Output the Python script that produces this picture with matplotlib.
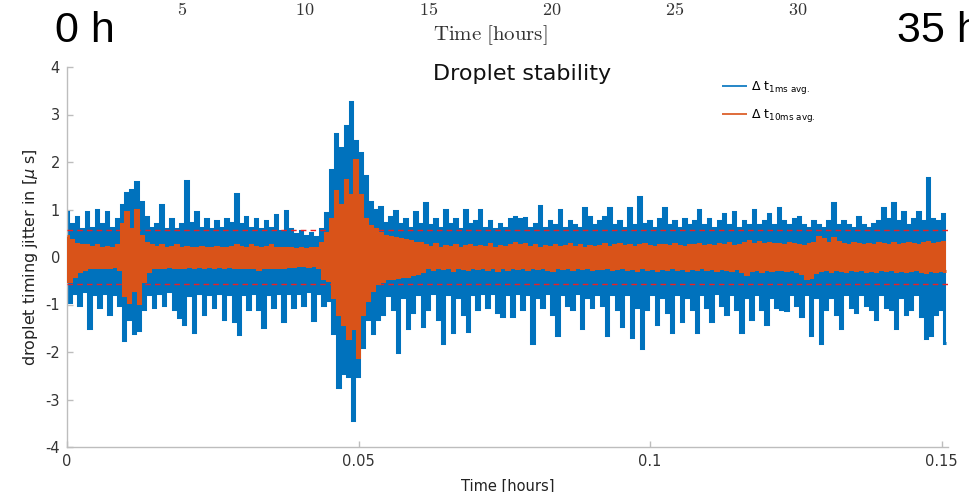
import numpy as np
import matplotlib
matplotlib.use("Agg")
import matplotlib.pyplot as plt

plt.rcParams["path.simplify"] = False
plt.rcParams["axes.unicode_minus"] = False

# ---------------- data ----------------
T_END = 0.1511          # hours, right end of the record
THRESHOLDS = [0.57, -0.57]   # red dashed limits (µs)

# envelope of the 1 ms average, one value per ~5 px column
BLUE_UP = [
    0.95, 0.70, 0.85, 0.58, 0.95, 0.62, 1.00, 0.70, 0.95, 0.62,
    0.80, 1.10, 1.35, 1.42, 1.57, 1.15, 0.85, 0.62, 0.70, 1.10,
    0.58, 0.80, 0.60, 0.70, 1.60, 0.72, 0.95, 0.62, 0.80, 0.58,
    0.75, 0.62, 0.80, 0.72, 1.33, 0.70, 0.85, 0.62, 0.80, 0.58,
    0.75, 0.62, 0.88, 0.55, 0.97, 0.58, 0.48, 0.55, 0.45, 0.50,
    0.42, 0.60, 0.92, 1.83, 2.60, 2.30, 2.75, 3.27, 2.45, 2.20,
    1.70, 1.15, 1.00, 1.05, 0.72, 0.85, 0.97, 0.70, 0.80, 0.62,
    0.95, 0.70, 1.13, 0.68, 0.80, 0.62, 1.00, 0.70, 0.80, 0.58,
    1.00, 0.70, 0.75, 1.00, 0.62, 0.75, 0.58, 0.70, 0.62, 0.80,
    0.85, 0.80, 0.82, 0.62, 0.70, 1.08, 0.62, 0.75, 0.68, 1.00,
    0.62, 0.75, 0.68, 0.62, 1.03, 0.85, 0.68, 0.75, 0.85, 1.03,
    0.68, 0.75, 0.62, 1.03, 0.68, 1.27, 0.70, 0.75, 0.62, 0.80,
    1.03, 0.68, 0.75, 0.62, 0.80, 0.68, 0.75, 1.00, 0.68, 0.80,
    0.62, 0.75, 0.90, 0.68, 0.95, 0.62, 0.75, 0.68, 1.00, 0.68,
    0.75, 0.90, 0.68, 1.03, 0.75, 0.68, 0.80, 0.85, 0.68, 0.62,
    0.75, 0.68, 0.62, 0.75, 1.13, 0.68, 0.75, 0.68, 0.62, 0.85,
    0.68, 0.62, 0.70, 0.75, 1.03, 0.80, 1.13, 0.75, 0.95, 0.68,
    0.80, 0.95, 0.75, 1.66, 0.80, 0.75, 0.90,
]
BLUE_LOW = [
    -0.95, -0.75, -1.00, -0.72, -1.50, -0.78, -1.05, -0.75, -1.20, -0.78,
    -1.00, -1.75, -1.30, -1.60, -1.53, -1.10, -0.78, -1.05, -0.75, -1.00,
    -0.72, -1.10, -1.27, -1.40, -0.80, -1.58, -0.75, -1.20, -0.78, -1.05,
    -0.75, -1.30, -0.78, -1.35, -1.63, -0.78, -1.10, -0.75, -1.10, -1.47,
    -0.78, -1.05, -0.75, -1.35, -0.75, -1.05, -0.75, -1.00, -0.72, -1.32,
    -0.75, -1.00, -0.90, -1.60, -2.73, -2.45, -2.50, -3.43, -2.50, -1.90,
    -1.30, -1.60, -1.30, -1.20, -0.80, -1.10, -2.00, -0.85, -1.50, -1.15,
    -0.78, -1.45, -1.10, -0.75, -1.30, -1.80, -0.78, -1.58, -0.85, -1.20,
    -1.55, -0.78, -1.10, -0.75, -1.05, -0.75, -1.15, -1.25, -0.78, -1.25,
    -0.75, -1.10, -0.78, -1.80, -0.85, -1.05, -0.75, -1.20, -1.65, -0.78,
    -1.00, -1.10, -0.75, -1.50, -0.85, -1.05, -0.78, -1.00, -1.64, -0.78,
    -1.10, -1.45, -0.78, -1.68, -1.05, -1.92, -1.10, -0.78, -1.40, -0.85,
    -1.15, -1.57, -0.78, -1.35, -0.85, -1.10, -1.57, -0.78, -1.05, -1.35,
    -0.75, -1.00, -1.20, -0.78, -1.10, -1.57, -0.85, -1.30, -0.78, -1.10,
    -1.40, -0.85, -1.05, -1.10, -1.12, -0.78, -1.00, -1.25, -0.78, -1.64,
    -0.85, -1.80, -1.10, -0.85, -1.20, -1.50, -0.78, -1.05, -1.15, -0.78,
    -1.00, -1.10, -1.30, -0.78, -1.05, -1.10, -1.50, -0.85, -1.20, -1.10,
    -0.78, -1.25, -1.70, -1.64, -1.20, -1.10, -1.80,
]
# envelope of the 10 ms average
ORANGE_UP = [
    0.45, 0.35, 0.28, 0.25, 0.25, 0.22, 0.25, 0.20, 0.22, 0.20,
    0.25, 0.70, 0.95, 0.60, 1.00, 0.45, 0.30, 0.25, 0.22, 0.25,
    0.20, 0.22, 0.25, 0.20, 0.22, 0.20, 0.18, 0.22, 0.20, 0.18,
    0.22, 0.20, 0.18, 0.22, 0.25, 0.22, 0.20, 0.25, 0.22, 0.20,
    0.22, 0.25, 0.20, 0.18, 0.20, 0.18, 0.16, 0.18, 0.16, 0.18,
    0.20, 0.30, 0.50, 0.80, 1.40, 1.10, 1.62, 1.30, 2.05, 1.30,
    0.80, 0.65, 0.60, 0.50, 0.45, 0.42, 0.40, 0.38, 0.35, 0.33,
    0.30, 0.30, 0.25, 0.22, 0.28, 0.20, 0.24, 0.22, 0.26, 0.20,
    0.23, 0.25, 0.21, 0.24, 0.22, 0.27, 0.20, 0.24, 0.22, 0.25,
    0.30, 0.26, 0.28, 0.22, 0.25, 0.20, 0.24, 0.22, 0.26, 0.21,
    0.24, 0.27, 0.22, 0.25, 0.20, 0.24, 0.22, 0.24, 0.27, 0.22,
    0.25, 0.28, 0.23, 0.26, 0.22, 0.25, 0.28, 0.24, 0.22, 0.26,
    0.25, 0.23, 0.27, 0.24, 0.22, 0.26, 0.25, 0.28, 0.24, 0.26,
    0.23, 0.27, 0.25, 0.29, 0.24, 0.26, 0.30, 0.33, 0.28, 0.32,
    0.27, 0.30, 0.28, 0.28, 0.25, 0.30, 0.27, 0.26, 0.24, 0.27,
    0.30, 0.43, 0.38, 0.30, 0.40, 0.32, 0.28, 0.26, 0.29, 0.27,
    0.25, 0.28, 0.26, 0.30, 0.27, 0.25, 0.29, 0.26, 0.28, 0.30,
    0.27, 0.25, 0.29, 0.31, 0.28, 0.30, 0.32,
]
ORANGE_LOW = [
    -0.50, -0.40, -0.30, -0.25, -0.22, -0.20, -0.22, -0.20, -0.22, -0.18,
    -0.25, -0.80, -0.95, -0.70, -0.97, -0.50, -0.30, -0.22, -0.20, -0.22,
    -0.18, -0.20, -0.22, -0.20, -0.18, -0.22, -0.18, -0.20, -0.18, -0.20,
    -0.18, -0.20, -0.18, -0.22, -0.22, -0.20, -0.22, -0.20, -0.25, -0.20,
    -0.22, -0.20, -0.22, -0.20, -0.18, -0.18, -0.16, -0.16, -0.18, -0.16,
    -0.20, -0.45, -0.48, -0.85, -1.20, -1.40, -1.70, -1.50, -2.10, -1.20,
    -0.90, -0.70, -0.55, -0.50, -0.45, -0.45, -0.42, -0.40, -0.40, -0.35,
    -0.33, -0.30, -0.22, -0.25, -0.20, -0.24, -0.22, -0.27, -0.20, -0.23,
    -0.25, -0.21, -0.24, -0.22, -0.26, -0.20, -0.28, -0.22, -0.25, -0.21,
    -0.24, -0.22, -0.26, -0.20, -0.24, -0.22, -0.25, -0.27, -0.21, -0.24,
    -0.22, -0.26, -0.20, -0.24, -0.22, -0.25, -0.23, -0.24, -0.22, -0.26,
    -0.24, -0.21, -0.25, -0.23, -0.27, -0.22, -0.25, -0.24, -0.28, -0.23,
    -0.25, -0.22, -0.26, -0.24, -0.27, -0.23, -0.25, -0.22, -0.26, -0.24,
    -0.28, -0.23, -0.25, -0.27, -0.24, -0.30, -0.35, -0.28, -0.26, -0.30,
    -0.25, -0.28, -0.26, -0.26, -0.28, -0.25, -0.30, -0.33, -0.45, -0.42,
    -0.32, -0.28, -0.26, -0.29, -0.25, -0.28, -0.30, -0.26, -0.28, -0.25,
    -0.29, -0.27, -0.30, -0.26, -0.28, -0.25, -0.29, -0.27, -0.30, -0.28,
    -0.26, -0.29, -0.31, -0.28, -0.30, -0.27, -0.30,
]
X_TICKS = [0, 0.05, 0.1, 0.15]
X_TICKLABELS = ["0", "0.05", "0.1", "0.15"]
Y_TICKS = [-4, -3, -2, -1, 0, 1, 2, 3, 4]
TOP_TICKS = [5, 10, 15, 20, 25, 30]     # hours on the cropped axis above
TOP_RANGE = [0, 35]
LABELS = [r"$\Delta\ \mathrm{t}_{\mathrm{1ms\ avg.}}$",
          r"$\Delta\ \mathrm{t}_{\mathrm{10ms\ avg.}}$"]

BLUE = "#0072BD"
ORANGE = "#D95319"

# ---------------- figure ----------------
W, H = 969, 492
fig = plt.figure(figsize=(W / 100, H / 100), dpi=100)
fig.patch.set_facecolor("white")

ax = fig.add_axes([67 / W, 45 / H, (948 - 67) / W, (447 - 67) / H])

def interleave(up, low):
    return np.column_stack([up, low]).ravel()

blue_y = interleave(BLUE_UP, BLUE_LOW)
orange_y = interleave(ORANGE_UP, ORANGE_LOW)
t = np.linspace(0, T_END - 0.0004, len(blue_y))

ax.plot(t, blue_y, color=BLUE, lw=2.2, drawstyle="steps-mid",
        solid_joinstyle="miter", solid_capstyle="butt", zorder=2, label=LABELS[0])
for v in THRESHOLDS:
    ax.axhline(v, color="#EE2020", lw=1.0, ls=(0, (4, 3)), zorder=3)
ax.plot(t, orange_y, color=ORANGE, lw=2.2, drawstyle="steps-mid",
        solid_joinstyle="miter", solid_capstyle="butt", zorder=4, label=LABELS[1])

ax.set_xlim(0, T_END)
ax.set_ylim(-4, 4)
ax.set_xticks(X_TICKS)
ax.set_xticklabels(X_TICKLABELS)
ax.set_yticks(Y_TICKS)
for s in ["top", "right"]:
    ax.spines[s].set_visible(False)
for s in ["left", "bottom"]:
    ax.spines[s].set_color("#bdbdbd")
    ax.spines[s].set_linewidth(1.0)
ax.tick_params(direction="in", length=4, width=1, color="#bdbdbd",
               labelcolor="#333333", labelsize=10.5, pad=5)

ax.set_ylabel(r"droplet timing jitter in [$\mu$ s]", fontsize=11.5,
              color="#222222", labelpad=4)
ax.set_xlabel("Time [hours]", fontsize=10.5, color="#222222", labelpad=7)
ax.set_title("Droplet stability", fontsize=16, color="#111111",
             x=(522 - 67) / (948 - 67), y=(447 - 80) / (447 - 67), pad=0)

leg = ax.legend(loc="upper left", bbox_to_anchor=(722 / W, 1 - 79 / H),
                bbox_transform=fig.transFigure, frameon=False, fontsize=9,
                handlelength=2.0, handletextpad=0.3, labelspacing=0.9,
                borderpad=0, borderaxespad=0)
for h in leg.get_lines():
    h.set_linewidth(1.2)

# ---------------- cropped strip of the axis above ----------------
ax_top = fig.add_axes([58.8 / W, 1.0, (921.2 - 58.8) / W, 0.05])
ax_top.set_xlim(*TOP_RANGE)
ax_top.set_xticks(TOP_TICKS)
ax_top.set_xticklabels([f"${v}$" for v in TOP_TICKS])
ax_top.tick_params(length=0, labelsize=13, labelcolor="#333333", pad=1)
for lbl in ax_top.get_xticklabels():
    lbl.set_math_fontfamily("cm")
ax_top.set_yticks([])
for s in ax_top.spines.values():
    s.set_visible(False)
ax_top.patch.set_visible(False)
ax_top.set_xlabel(r"$\mathrm{Time\ [hours]}$", fontsize=15, color="#333333",
                  labelpad=3, math_fontfamily="cm")

fig.text(55 / W, 1 - 31 / H, "0 h", fontsize=31, family="Liberation Sans",
         ha="left", va="center", color="black")
fig.text(897 / W, 1 - 31 / H, "35 h", fontsize=31, family="Liberation Sans",
         ha="left", va="center", color="black")

fig.savefig("out.png", dpi=100)
